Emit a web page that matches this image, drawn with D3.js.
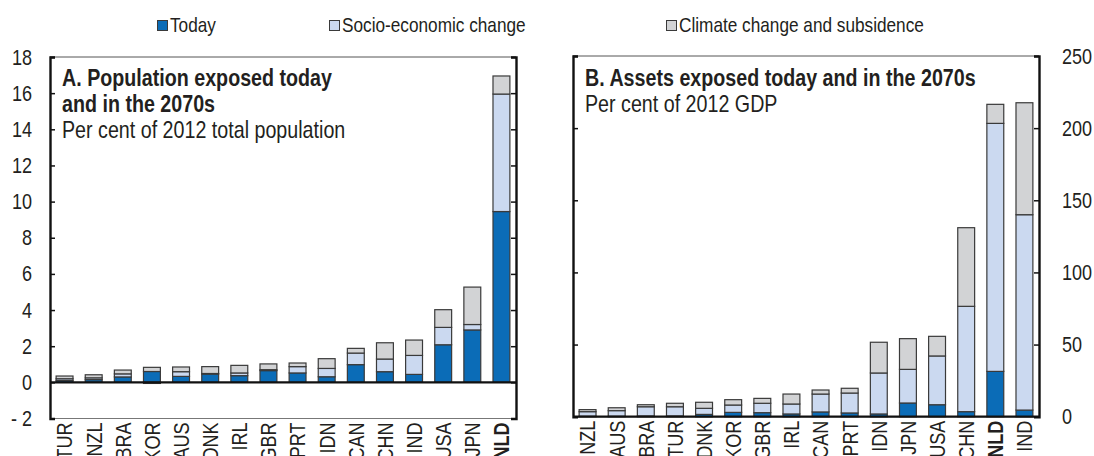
<!DOCTYPE html>
<html>
<head>
<meta charset="utf-8">
<script src="https://cdn.jsdelivr.net/npm/d3@7"></script>
<style>
  html, body { margin: 0; padding: 0; background: #fff; }
  svg { display: block; font-family: "Liberation Sans", Arial, sans-serif; }
</style>
</head>
<body>
<svg id="chart" width="1094" height="456"></svg>
<script>
// Series names
const seriesNames = ["Today", "Socio-economic change", "Climate change and subsidence"];

// Panel A: population exposed, per cent of 2012 total population
const popCountries = ["TUR","NZL","BRA","KOR","AUS","DNK","IRL","GBR","PRT","IDN","CAN","CHN","IND","USA","JPN","NLD"];
const popToday     = [0.10, 0.15, 0.30, 0.60, 0.33, 0.46, 0.37, 0.65, 0.52, 0.31, 0.98, 0.59, 0.44, 2.08, 2.90, 9.45];
const popSocio     = [0.10, 0.10, 0.17, -0.06, 0.26, 0.03, 0.15, 0.05, 0.35, 0.46, 0.64, 0.70, 1.05, 0.96, 0.30, 6.50];
const popClimate   = [0.15, 0.17, 0.21, 0.23, 0.26, 0.38, 0.42, 0.32, 0.20, 0.54, 0.26, 0.90, 0.85, 0.98, 2.07, 1.00];
const popTicks     = [-2, 0, 2, 4, 6, 8, 10, 12, 14, 16, 18];

// Panel B: assets exposed, per cent of 2012 GDP
const assetCountries = ["NZL","AUS","BRA","TUR","DNK","KOR","GBR","IRL","CAN","PRT","IDN","JPN","USA","CHN","NLD","IND"];
const assetToday     = [0.3, 0.3, 0.5, 0.5, 1.6, 3.0, 2.8, 1.9, 3.3, 2.6, 1.9, 9.5, 8.3, 3.5, 31.4, 4.6];
const assetSocio     = [3.2, 3.9, 6.4, 6.4, 4.2, 5.1, 6.5, 6.9, 12.4, 13.8, 28.4, 23.3, 33.8, 73.0, 171.9, 135.4];
const assetClimate   = [1.4, 2.0, 1.4, 2.4, 4.2, 3.7, 3.4, 6.9, 2.8, 3.3, 21.3, 21.3, 13.6, 54.5, 13.2, 77.6];
const assetTicks     = [0, 50, 100, 150, 200, 250];

const colors = ["#0b6cb7", "#cbd9f0", "#d2d3d5"];
const strokeColor = "#3a3a3a";
const textColor = "#231f20";
const boldCountry = "NLD";
// Horizontal squeeze that gives the regular sans a narrow cut
const NARROW = 0.82;

const svg = d3.select("#chart");

// Place a text at (x, y) and compress it horizontally
function narrowText(parent, x, y, size, str, weight) {
  return parent.append("text")
    .attr("transform", `translate(${x},${y}) scale(${NARROW},1)`)
    .attr("font-size", size)
    .attr("font-weight", weight || null)
    .attr("fill", textColor)
    .text(str);
}

// Legend
const legendItems = [
  { x: 157, label: seriesNames[0], color: colors[0] },
  { x: 329, label: seriesNames[1], color: colors[1] },
  { x: 666, label: seriesNames[2], color: colors[2] }
];
const legend = svg.append("g").attr("class", "legend");
legendItems.forEach(d => {
  legend.append("rect")
    .attr("x", d.x + 0.5).attr("y", 20.5)
    .attr("width", 10).attr("height", 10)
    .attr("fill", d.color).attr("stroke", strokeColor).attr("stroke-width", 1);
  narrowText(legend, d.x + 13, 32, 21, d.label);
});

function drawPanel(opts) {
  const { left, right, top, bottom, domain, ticks, countries, series, tickSide,
          tickFormat, titleLines, subtitle, titleY, subY } = opts;

  const g = svg.append("g");
  const x = d3.scaleBand().domain(countries).range([left, right])
    .paddingInner(0.42).paddingOuter(0.21);
  const y = d3.scaleLinear().domain(domain).range([bottom, top]);

  const rows = countries.map((c, i) => ({
    country: c, today: series[0][i], socio: series[1][i], climate: series[2][i]
  }));
  const stack = d3.stack().keys(["today", "socio", "climate"]).offset(d3.stackOffsetDiverging);
  const layers = stack(rows);

  // Frame: thin top/bottom edges, heavy sides
  g.append("line").attr("x1", left).attr("x2", right).attr("y1", top).attr("y2", top)
    .attr("stroke", "#555").attr("stroke-width", 1);
  g.append("line").attr("x1", left).attr("x2", right).attr("y1", bottom).attr("y2", bottom)
    .attr("stroke", "#777").attr("stroke-width", 1);

  // Stacked bars
  layers.forEach((layer, li) => {
    g.append("g").selectAll("rect").data(layer).join("rect")
      .attr("x", d => x(d.data.country))
      .attr("width", x.bandwidth())
      .attr("y", d => y(Math.max(d[0], d[1])))
      .attr("height", d => Math.abs(y(d[0]) - y(d[1])))
      .attr("fill", colors[li])
      .attr("stroke", strokeColor)
      .attr("stroke-width", 1.2);
  });

  // Zero line
  g.append("line").attr("x1", left).attr("x2", right).attr("y1", y(0)).attr("y2", y(0))
    .attr("stroke", "#111").attr("stroke-width", 2.2);

  // Inward ticks on both sides
  const leftAxis = d3.axisRight(y).tickValues(ticks).tickSize(5).tickFormat("");
  const rightAxis = d3.axisLeft(y).tickValues(ticks).tickSize(5).tickFormat("");
  g.append("g").attr("transform", `translate(${left},0)`).call(leftAxis)
    .call(a => a.select(".domain").attr("stroke", "#111").attr("stroke-width", 2.4))
    .call(a => a.selectAll(".tick line").attr("stroke", "#111").attr("stroke-width", 1.5));
  g.append("g").attr("transform", `translate(${right},0)`).call(rightAxis)
    .call(a => a.select(".domain").attr("stroke", "#111").attr("stroke-width", 2.4))
    .call(a => a.selectAll(".tick line").attr("stroke", "#111").attr("stroke-width", 1.5));

  // Tick labels
  const labelAxis = (tickSide === "left" ? d3.axisLeft(y) : d3.axisRight(y))
    .tickValues(ticks).tickSize(0).tickPadding(0).tickFormat(tickFormat);
  const lx = tickSide === "left" ? left - 18 : right + 23;
  g.append("g").attr("transform", `translate(${lx},0)`).call(labelAxis)
    .call(a => a.select(".domain").remove())
    .call(a => a.selectAll("text")
      .attr("font-family", null)
      .attr("font-size", 22)
      .attr("fill", textColor)
      .attr("x", 0)
      .attr("transform", `scale(${NARROW},1)`));

  // Category labels, rotated
  const xAxis = d3.axisBottom(x).tickSize(0).tickPadding(0);
  g.append("g").attr("transform", `translate(0,${bottom})`).call(xAxis)
    .call(a => a.select(".domain").remove())
    .call(a => a.selectAll("text")
      .attr("font-family", null)
      .attr("font-size", 22)
      .attr("fill", textColor)
      .attr("font-weight", d => d === boldCountry ? "bold" : null)
      .attr("text-anchor", "end")
      .attr("dy", "0.36em")
      .attr("transform", `translate(0,4) rotate(-90) scale(${NARROW},1)`)
      .attr("x", 0).attr("y", 0));

  // Titles
  titleLines.forEach((t, i) => narrowText(g, left + 12, titleY[i], 24, t, "bold"));
  narrowText(g, left + 12, subY, 24, subtitle);
}

const fmtPop = d => d < 0 ? "- " + Math.abs(d) : String(d);

drawPanel({
  left: 50, right: 516, top: 57, bottom: 418.5,
  domain: [-2, 18], ticks: popTicks, countries: popCountries,
  series: [popToday, popSocio, popClimate], tickSide: "left", tickFormat: fmtPop,
  titleLines: ["A. Population exposed today", "and in the 2070s"],
  subtitle: "Per cent of 2012 total population",
  titleY: [86, 112], subY: 138
});

drawPanel({
  left: 573, right: 1039, top: 56, bottom: 416.7,
  domain: [0, 250], ticks: assetTicks, countries: assetCountries,
  series: [assetToday, assetSocio, assetClimate], tickSide: "right", tickFormat: d => String(d),
  titleLines: ["B. Assets exposed today and in the 2070s"],
  subtitle: "Per cent of 2012 GDP",
  titleY: [86], subY: 112
});
</script>
</body>
</html>
